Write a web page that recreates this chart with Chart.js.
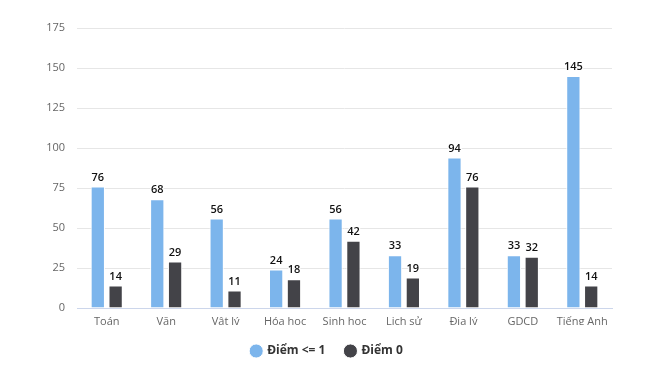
<!DOCTYPE html>
<html><head><meta charset="utf-8">
<script src="https://cdn.jsdelivr.net/npm/chart.js@4"></script>
<style>html,body{margin:0;padding:0;background:#fff}#w{width:654px;height:387px}</style>
</head><body><div id="w"><canvas id="c" width="654" height="387"></canvas></div>
<script>
const categories = ["Toán","Văn","Vật lý","Hóa học","Sinh học","Lịch sử","Địa lý","GDCD","Tiếng Anh"];
const seriesNames = ["Điểm <= 1","Điểm 0"];
const diemDuoi1 = [76,68,56,24,56,33,94,33,145];
const diem0 = [14,29,11,18,42,19,76,32,14];
const yTicks = [0,25,50,75,100,125,150,175];

const FONT = "'Open Sans', 'DejaVu Sans', sans-serif";

const labelPlugin = {
  id:'vals',
  afterDatasetsDraw(chart){
    const ctx = chart.ctx;
    ctx.save();
    ctx.font = "600 11px " + FONT;
    ctx.textAlign = 'center';
    ctx.textBaseline = 'middle';
    chart.data.datasets.forEach((ds,i)=>{
      const meta = chart.getDatasetMeta(i);
      meta.data.forEach((bar,j)=>{
        const t = String(ds.data[j]);
        const y = bar.y - 9;
        ctx.lineWidth = 2.5; ctx.strokeStyle = '#fff'; ctx.lineJoin='round';
        ctx.strokeText(t, bar.x, y);
        ctx.fillStyle = '#111';
        ctx.fillText(t, bar.x, y);
      });
    });
    ctx.restore();
  }
};

new Chart(document.getElementById('c'), {
  type:'bar',
  data:{
    labels:categories,
    datasets:[
      {label:seriesNames[0], data:diemDuoi1, backgroundColor:'#7cb5ec', borderColor:'#fff', borderWidth:1, categoryPercentage:0.6, barPercentage:0.8},
      {label:seriesNames[1], data:diem0, backgroundColor:'#434348', borderColor:'#fff', borderWidth:1, categoryPercentage:0.6, barPercentage:0.8}
    ]
  },
  options:{
    responsive:false, animation:false,
    layout:{padding:{left:0,right:0,top:28,bottom:20}},
    plugins:{
      tooltip:{enabled:false},
      legend:{position:'bottom',
        labels:{usePointStyle:true, pointStyle:'circle', boxWidth:10, boxHeight:10, padding:20,
          color:'#333333', font:{family:FONT, size:12, weight:'bold'}}}
    },
    scales:{
      x:{
        grid:{display:false, drawTicks:false},
        border:{display:true, color:'#ccd6eb', width:1},
        ticks:{color:'#666666', font:{family:FONT,size:11}, padding:7, maxRotation:0},
        afterFit(s){ s.height = 17; }
      },
      y:{
        min:0, max:175,
        afterBuildTicks(s){ s.ticks = yTicks.map(v=>({value:v})); },
        grid:{color:'#e6e6e6', drawTicks:false},
        border:{display:false},
        ticks:{color:'#666666', font:{family:FONT,size:11}, padding:12},
        afterFit(s){ s.width = 77; }
      },
      yRight:{
        position:'right', display:true, min:0, max:175,
        grid:{display:false, drawTicks:false},
        border:{display:false},
        ticks:{display:false},
        afterFit(s){ s.width = 42; }
      }
    }
  },
  plugins:[labelPlugin]
});
</script></body></html>
